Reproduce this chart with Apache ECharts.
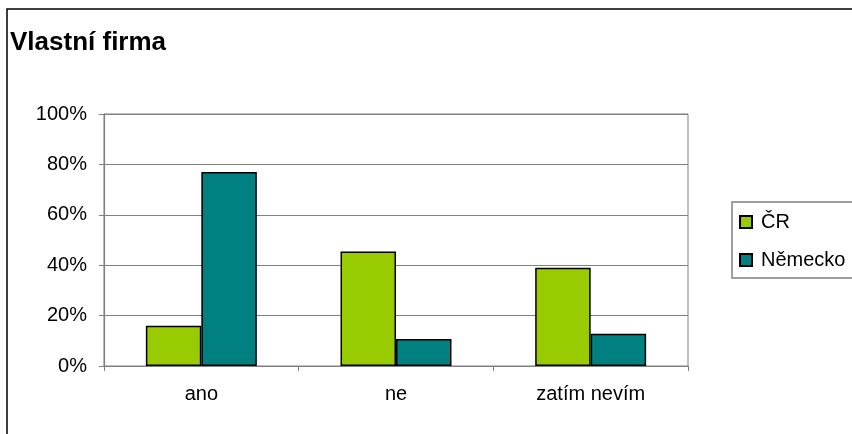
<!DOCTYPE html>
<html><head><meta charset="utf-8">
<script src="https://cdn.jsdelivr.net/npm/echarts@6/dist/echarts.min.js"></script>
<style>html,body{margin:0;padding:0;background:#fff}#c{width:852px;height:434px}</style>
</head><body><div id="c"></div>
<script>
const categories = ['ano', 'ne', 'zatím nevím'];
const seriesNames = ['ČR', 'Německo'];
const crValues = [16, 45.4, 39];
const deValues = [77, 10.7, 12.8];
const colors = ['#99CC00', '#008080'];

const chart = echarts.init(document.getElementById('c'), null, {renderer: 'canvas'});
const font = 'Liberation Sans, Arial, sans-serif';
chart.setOption({
  animation: false,
  textStyle: {fontFamily: font},
  title: {text: 'Vlastní firma', left: 10, top: 30, padding: 0, textStyle: {fontFamily: font, fontSize: 26, fontWeight: 'bold', color: '#000'}},
  graphic: [{type: 'rect', shape: {x: 7, y: 9, width: 860, height: 440}, style: {fill: 'none', stroke: '#000', lineWidth: 1.5}, silent: true}],
  grid: {left: 104, top: 114, width: 584, height: 252, show: true, borderColor: '#808080', borderWidth: 1, containLabel: false},
  legend: {
    orient: 'vertical', left: 732, top: 202, itemWidth: 12, itemHeight: 12, itemGap: 18,
    padding: [10, 30, 8, 7], borderColor: '#808080', borderWidth: 1.5,
    textStyle: {fontFamily: font, fontSize: 20, color: '#000', padding: [0, 0, 0, 4]},
    data: seriesNames.map(n => ({name: n, icon: 'rect'}))
  },
  xAxis: {
    type: 'category', data: categories,
    axisLine: {lineStyle: {color: '#808080', width: 1.2}},
    axisTick: {show: true, length: 5, lineStyle: {color: '#808080'}},
    axisLabel: {color: '#000', fontSize: 20, margin: 18, fontFamily: font},
    splitLine: {show: false}
  },
  yAxis: {
    type: 'value', min: 0, max: 100, interval: 20,
    axisLine: {show: true, lineStyle: {color: '#808080', width: 1.2}},
    axisTick: {show: true, length: 5, lineStyle: {color: '#808080'}},
    axisLabel: {color: '#000', fontSize: 20, formatter: '{value}%', margin: 17, fontFamily: font},
    splitLine: {show: true, lineStyle: {color: '#808080', width: 1}}
  },
  series: [
    {name: seriesNames[0], type: 'bar', data: crValues, barGap: '0%', barCategoryGap: '43%',
     itemStyle: {color: colors[0], borderColor: '#000', borderWidth: 1.5}},
    {name: seriesNames[1], type: 'bar', data: deValues, barGap: '0%', barCategoryGap: '43%',
     itemStyle: {color: colors[1], borderColor: '#000', borderWidth: 1.5}}
  ]
});
</script></body></html>
